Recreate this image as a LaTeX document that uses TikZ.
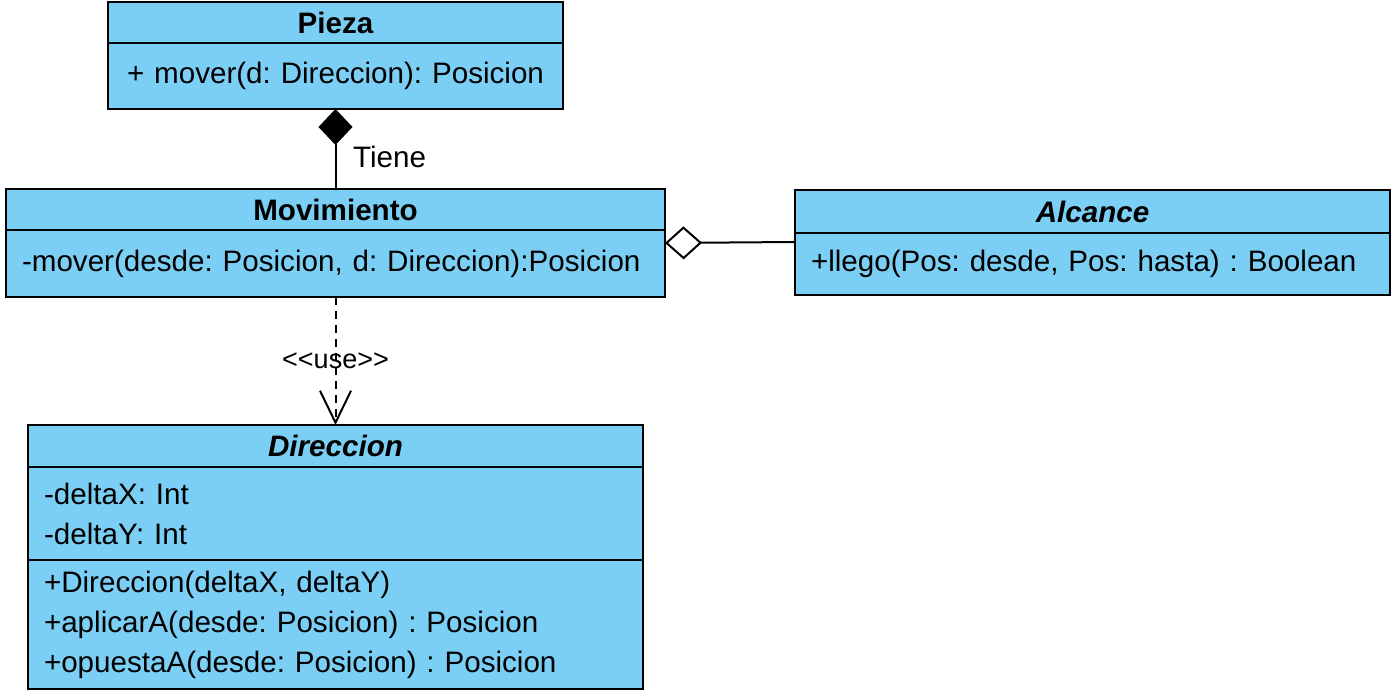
\documentclass[tikz,border=0pt]{standalone}
\usepackage{fontspec}
\setmainfont{Liberation Sans}
\newfontfamily\stereofont{Liberation Sans}[Ligatures=TeXOff]
\usetikzlibrary{arrows.meta}
\definecolor{umlblue}{HTML}{7BCFF5}
\frenchspacing

\begin{document}
\begin{tikzpicture}[x=0.5pt, y=-0.5pt,
    font=\fontsize{14.8}{20}\selectfont,
    classhead/.style={draw, line width=1pt, fill=umlblue, anchor=north west,
      outer sep=0pt, inner sep=0pt},
    classbody/.style={draw, line width=1pt, fill=umlblue, anchor=north west,
      outer sep=0pt, inner xsep=8pt, inner ysep=2pt, align=left},
    composition/.style={line width=1pt, {Diamond[length=18pt, width=17pt]}-},
    aggregation/.style={line width=1pt,
      {Diamond[open, length=18.5pt, width=16.5pt, fill=white]}-},
    dependency/.style={line width=1pt, dash pattern=on 4pt off 3pt,
      -{Straight Barb[length=16pt, width=15.5pt]}}]
    \useasboundingbox (0,0) rectangle (1397,694);

    % Pieza:
    \node[classhead, minimum width=227.5pt, minimum height=20.5pt] (pieza) at (108,2) {\bfseries Pieza};
    \node[classbody, text width=211.5pt, minimum height=33pt, align=center] (piezaOps) at (pieza.south west) {+~mover(d:~Direccion):~Posicion};

    % Movimiento:
    \node[classhead, minimum width=329.5pt, minimum height=20.5pt] (movimiento) at (6,189) {\bfseries Movimiento};
    \node[classbody, text width=313.5pt, minimum height=33.5pt] (movimientoOps) at (movimiento.south west) {-mover(desde:~Posicion,~d:~Direccion):Posicion};

    % Alcance:
    \node[classhead, minimum width=297.5pt, minimum height=21.5pt] (alcance) at (795,190) {\bfseries\itshape Alcance};
    \node[classbody, text width=281.5pt, minimum height=31pt] (alcanceOps) at (alcance.south west) {+llego(Pos:~desde,~Pos:~hasta)~:~Boolean};

    % Direccion:
    \node[classhead, minimum width=307.5pt, minimum height=21pt] (direccion) at (28,425) {\bfseries\itshape Direccion};
    \node[classbody, text width=291.5pt, minimum height=46.5pt] (direccionAttrs) at (direccion.south west) {-deltaX: Int\\-deltaY: Int};
    \node[classbody, text width=291.5pt, minimum height=64.5pt] (direccionOps) at (direccionAttrs.south west) {+Direccion(deltaX, deltaY)\\+aplicarA(desde: Posicion) : Posicion\\+opuestaA(desde: Posicion) : Posicion};

    % Relations:
    \draw[composition] (piezaOps.south) -- node[pos=0.6, right=5pt] {Tiene} (movimiento.north);
    \draw[aggregation] ([yshift=-6.5pt]movimientoOps.north east) -- ([yshift=-4.5pt]alcanceOps.north west);
    \draw[dependency] (movimientoOps.south) -- node {\stereofont\fontsize{13.5}{16}\selectfont <<use>>} (direccion.north);
  \end{tikzpicture}
\end{document}
